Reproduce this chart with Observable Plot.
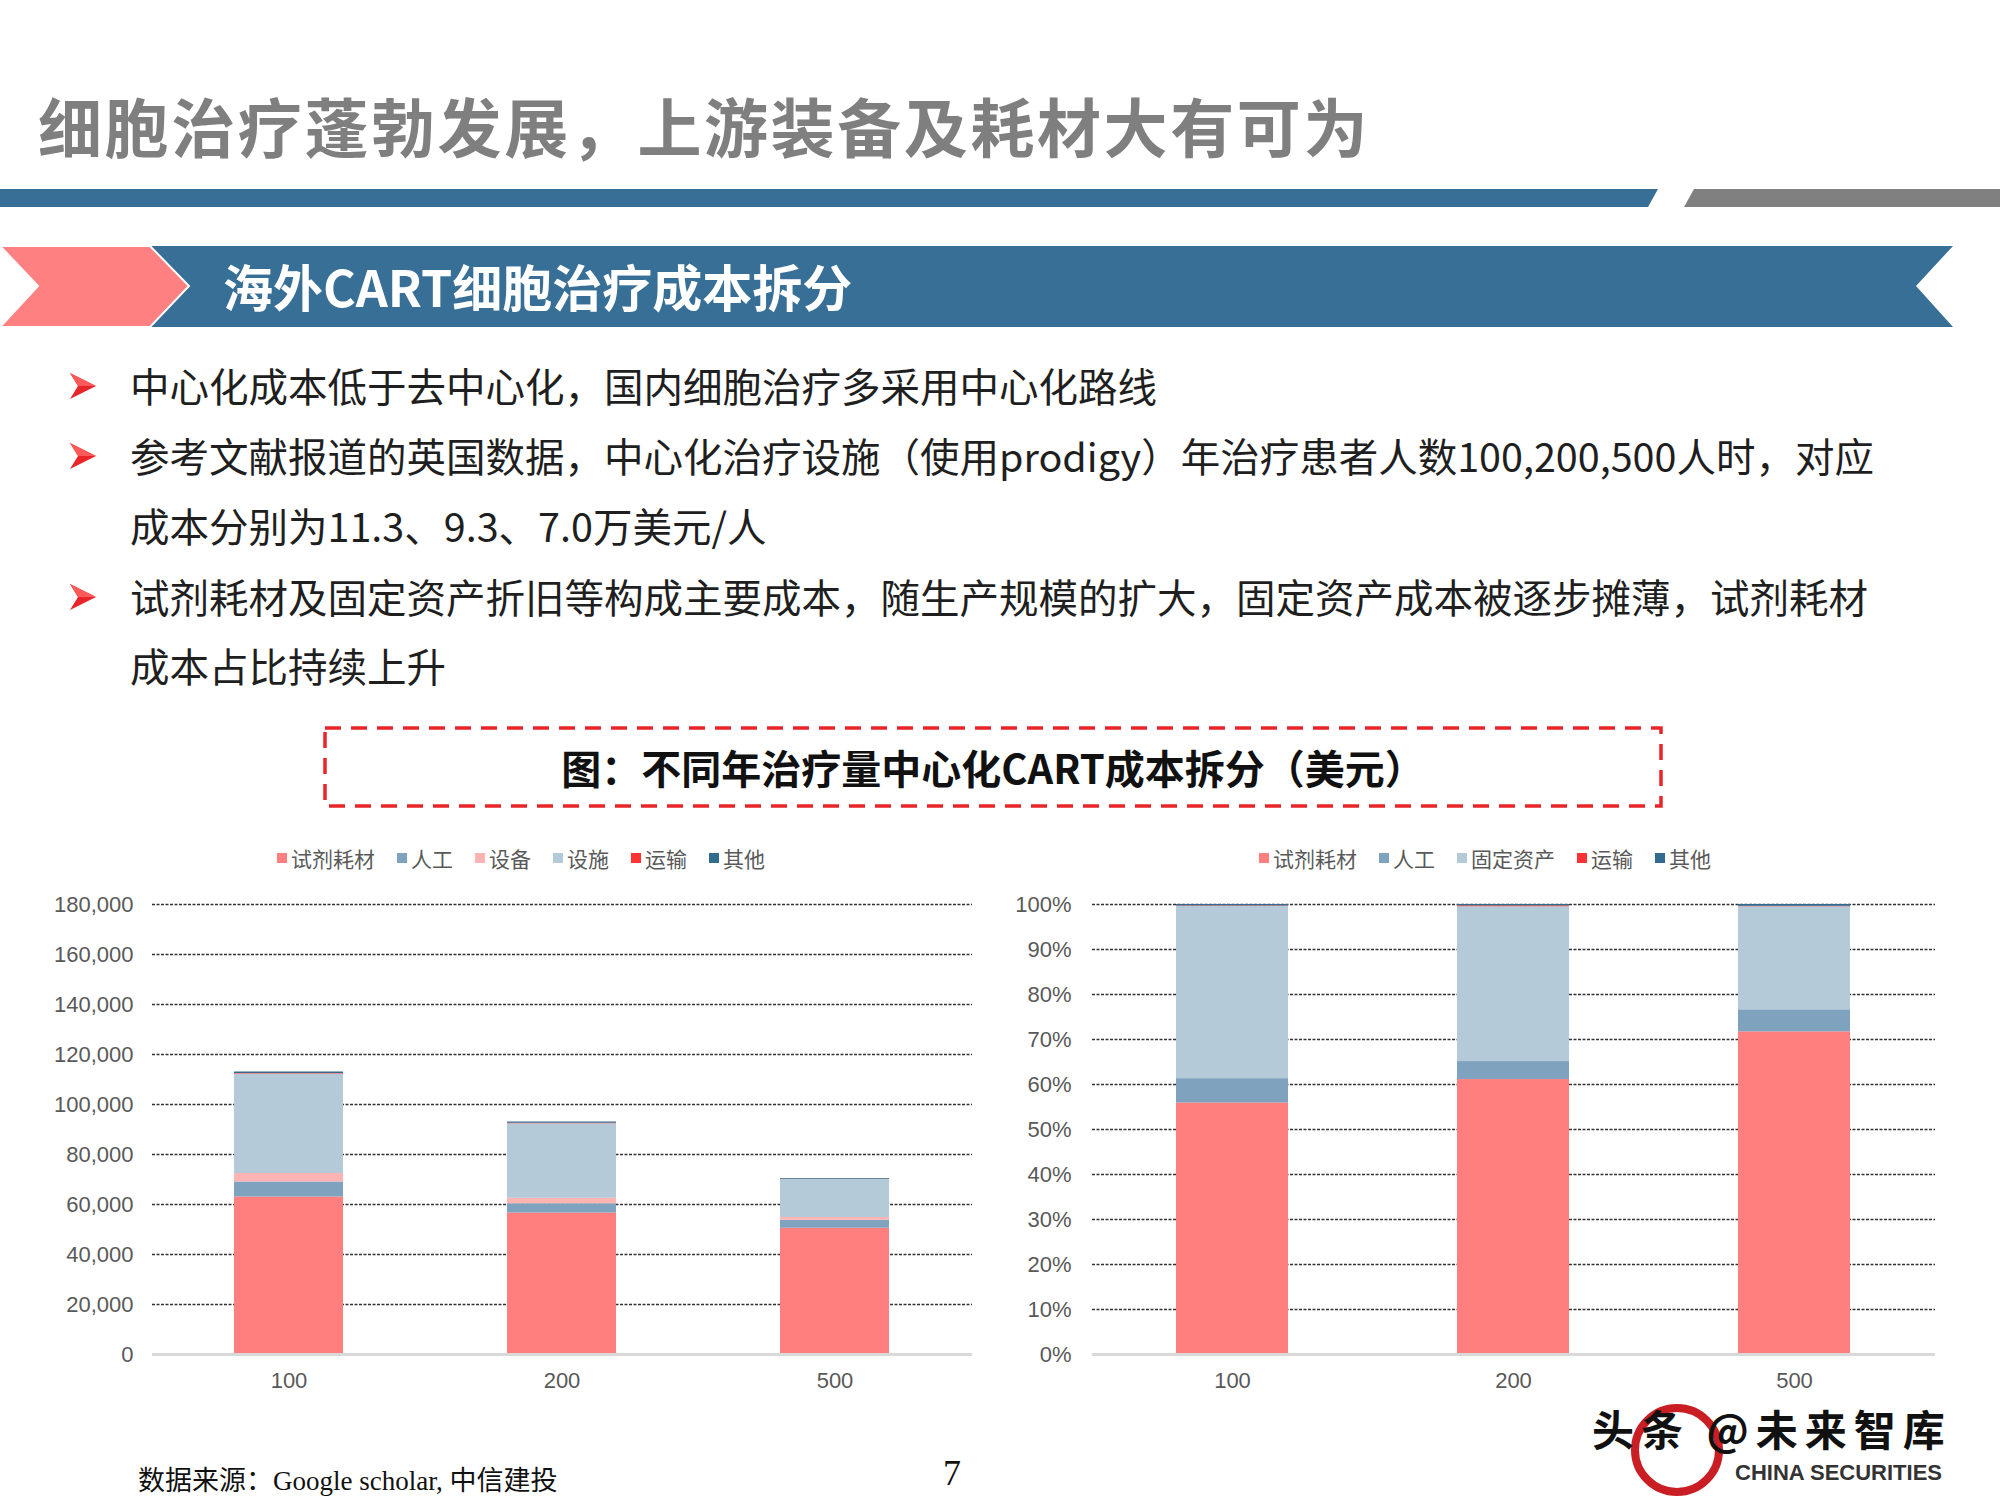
<!DOCTYPE html>
<html>
<head>
<meta charset="utf-8">
<script src="https://cdn.jsdelivr.net/npm/d3@7"></script>
<script src="https://cdn.jsdelivr.net/npm/@observablehq/plot@0.6"></script>
<style>
  html, body { margin: 0; padding: 0; background: #fff; }
  #page { position: relative; width: 2000px; height: 1500px; overflow: hidden; background: #fff;
          font-family: "Noto Sans CJK SC", "Noto Sans", sans-serif; }
  .abs { position: absolute; white-space: nowrap; }
  .bullet { position: absolute; left: 130px; font-size: 39.5px; line-height: 52px; color: #1f1f1f; white-space: nowrap; }
  .arrow { position: absolute; left: 70px; }
  .legend { position: absolute; top: 843px; height: 30px; display: flex; justify-content: center; align-items: center;
            font-size: 21px; color: #595959; gap: 22px; }
  .legend .item { display: flex; align-items: center; gap: 4px; }
  .legend .sw { width: 10px; height: 10px; display: inline-block; }
</style>
</head>
<body>
<div id="page">
  <svg class="abs" style="left:0;top:0" width="2000" height="340">
    <polygon points="0,189 1658,189 1648,207 0,207" fill="#376f97"/>
    <polygon points="1694,189 2000,189 2000,207 1684,207" fill="#808080"/>
    <polygon points="150,246 1953,246 1916,286 1953,327 150,327" fill="#376f97"/>
    <polygon points="0,246 150,246 189,286 150,327 0,327 38,286" fill="#ff8080" stroke="#fff" stroke-width="2"/>
  </svg>
  <div class="abs" style="left:38px;top:84px;font-size:64px;line-height:80px;font-weight:700;color:#7f7f7f;letter-spacing:2.6px;">细胞治疗蓬勃发展，上游装备及耗材大有可为</div>
  <div class="abs" style="left:223px;top:254px;font-size:50px;line-height:62px;font-weight:700;color:#fff;">海外CART细胞治疗成本拆分</div>

  <div id="bullets"></div>

  <svg class="abs" style="left:320px;top:723px" width="1346" height="90">
    <rect x="5" y="5" width="1336" height="78" fill="none" stroke="#e8262a" stroke-width="3.5" stroke-dasharray="16,10"/>
  </svg>
  <div class="abs" style="left:325px;top:728px;width:1336px;height:78px;line-height:78px;text-align:center;font-size:40px;font-weight:700;color:#111;">图：不同年治疗量中心化CART成本拆分（美元）</div>

  <div id="legendL" class="legend" style="left:0;width:1042px;"></div>
  <div id="legendR" class="legend" style="left:1000px;width:970px;"></div>
  <div id="chartL" class="abs" style="left:0;top:880px;"></div>
  <div id="chartR" class="abs" style="left:1000px;top:880px;"></div>

  <div class="abs" style="left:138px;top:1464px;font-size:27px;line-height:34px;color:#111;font-family:'Liberation Serif','Noto Sans CJK SC',serif;">数据来源：Google scholar, 中信建投</div>
  <div class="abs" style="left:943px;top:1452px;font-size:36px;line-height:42px;color:#111;font-family:'Liberation Serif',serif;">7</div>

  <svg class="abs" style="left:1625px;top:1398px" width="110" height="102">
    <circle cx="52" cy="52" r="42" fill="none" stroke="#c81e24" stroke-width="8"/>
  </svg>
  <div class="abs" style="left:1592px;top:1406px;font-size:42px;line-height:44px;color:#111;font-weight:700;letter-spacing:7px;">头条 @未来智库</div>
  <div class="abs" style="left:1735px;top:1461px;font-size:22px;line-height:24px;color:#333;font-weight:700;font-family:'Liberation Sans',sans-serif;">CHINA SECURITIES</div>
</div>

<script>
// ---------- text ----------
const bulletLines = [
  {text: "中心化成本低于去中心化，国内细胞治疗多采用中心化路线", arrow: true},
  {text: "参考文献报道的英国数据，中心化治疗设施（使用prodigy）年治疗患者人数100,200,500人时，对应", arrow: true},
  {text: "成本分别为11.3、9.3、7.0万美元/人", arrow: false},
  {text: "试剂耗材及固定资产折旧等构成主要成本，随生产规模的扩大，固定资产成本被逐步摊薄，试剂耗材", arrow: true},
  {text: "成本占比持续上升", arrow: false}
];

// ---------- data ----------
const sizes = ["100", "200", "500"];

const seriesLeft = ["试剂耗材", "人工", "设备", "设施", "运输", "其他"];
const reagent   = [63000, 56600, 50500];
const labor     = [6000, 3700, 3200];
const equipment = [3400, 2200, 1100];
const facility  = [39800, 29800, 15200];
const transport = [200, 200, 100];
const other     = [600, 500, 300];

const seriesRight = ["试剂耗材", "人工", "固定资产", "运输", "其他"];
const reagentPct   = [55.9, 61.1, 71.7];
const laborPct     = [5.4, 4.0, 4.9];
const fixedPct     = [38.3, 34.4, 22.9];
const transportPct = [0.1, 0.2, 0.1];
const otherPct     = [0.3, 0.3, 0.4];

const yTicksLeft = [0, 20000, 40000, 60000, 80000, 100000, 120000, 140000, 160000, 180000];
const yTicksRight = [0, 10, 20, 30, 40, 50, 60, 70, 80, 90, 100];

const colorLeft = ["#ff7f7f", "#7fa3be", "#ffb3b3", "#b4cad9", "#ff3333", "#336b8f"];
const colorRight = ["#ff7f7f", "#7fa3be", "#b4cad9", "#ff3333", "#336b8f"];

// ---------- bullets ----------
const bulletCenters = [385, 455, 525, 596, 665];
const bdiv = document.getElementById("bullets");
bulletLines.forEach((b, i) => {
  const c = bulletCenters[i];
  const t = document.createElement("div");
  t.className = "bullet";
  t.style.top = (c - 26) + "px";
  t.textContent = b.text;
  bdiv.appendChild(t);
  if (b.arrow) {
    const ns = "http://www.w3.org/2000/svg";
    const s = document.createElementNS(ns, "svg");
    s.setAttribute("class", "arrow");
    s.setAttribute("width", "28");
    s.setAttribute("height", "26");
    s.style.top = (c - 12) + "px";
    s.innerHTML = '<polygon points="0,0 26,13 0,26 8,13" fill="#e8262a"/><polygon points="0,0 26,13 8,13" fill="#ff5a5a"/>';
    bdiv.appendChild(s);
  }
});

// ---------- legends ----------
function legend(el, names, colors) {
  names.forEach((n, i) => {
    const it = document.createElement("span");
    it.className = "item";
    const sw = document.createElement("span");
    sw.className = "sw";
    sw.style.background = colors[i];
    const tx = document.createElement("span");
    tx.textContent = n;
    it.appendChild(sw); it.appendChild(tx);
    el.appendChild(it);
  });
}
legend(document.getElementById("legendL"), seriesLeft, colorLeft);
legend(document.getElementById("legendR"), seriesRight, colorRight);

// ---------- tables ----------
const leftCols = [reagent, labor, equipment, facility, transport, other];
const rowsLeft = [];
seriesLeft.forEach((s, si) => sizes.forEach((sz, i) => rowsLeft.push({size: sz, series: s, value: leftCols[si][i]})));

const rightCols = [reagentPct, laborPct, fixedPct, transportPct, otherPct];
const rowsRight = [];
seriesRight.forEach((s, si) => sizes.forEach((sz, i) => rowsRight.push({size: sz, series: s, value: rightCols[si][i]})));

const fmt = d3.format(",");

function chart(rows, names, colors, ticks, domainMax, tickFormat, opts) {
  return Plot.plot({
    width: 1000,
    height: 518,
    marginLeft: opts.marginLeft,
    marginRight: opts.marginRight,
    marginTop: 24,
    marginBottom: 44,
    style: {fontSize: "22px", fontFamily: "'Liberation Sans', Arial, sans-serif", color: "#595959", background: "white"},
    x: {domain: sizes, paddingInner: 0.6, paddingOuter: 0.3, label: null},
    y: {domain: [0, domainMax], label: null},
    color: {domain: names, range: colors},
    marks: [
      Plot.ruleY(ticks.filter(d => d > 0), {stroke: "#333", strokeWidth: 1.3, strokeDasharray: "3,1.5"}),
      Plot.barY(rows, {x: "size", y: "value", fill: "series", order: null}),
      Plot.ruleY([0], {stroke: "#d9d9d9", strokeWidth: 3}),
      Plot.axisY({ticks: ticks, tickSize: 0, tickPadding: opts.tickPadding, tickFormat: tickFormat, fill: "#595959", label: null}),
      Plot.axisX({tickSize: 0, tickPadding: 18, fill: "#595959", label: null})
    ]
  });
}

document.getElementById("chartL").appendChild(
  chart(rowsLeft, seriesLeft, colorLeft, yTicksLeft, 180000, d => fmt(d), {marginLeft: 152, marginRight: 28, tickPadding: 19})
);
document.getElementById("chartR").appendChild(
  chart(rowsRight, seriesRight, colorRight, yTicksRight, 100, d => d + "%", {marginLeft: 92, marginRight: 65, tickPadding: 21})
);
</script>
</body>
</html>
